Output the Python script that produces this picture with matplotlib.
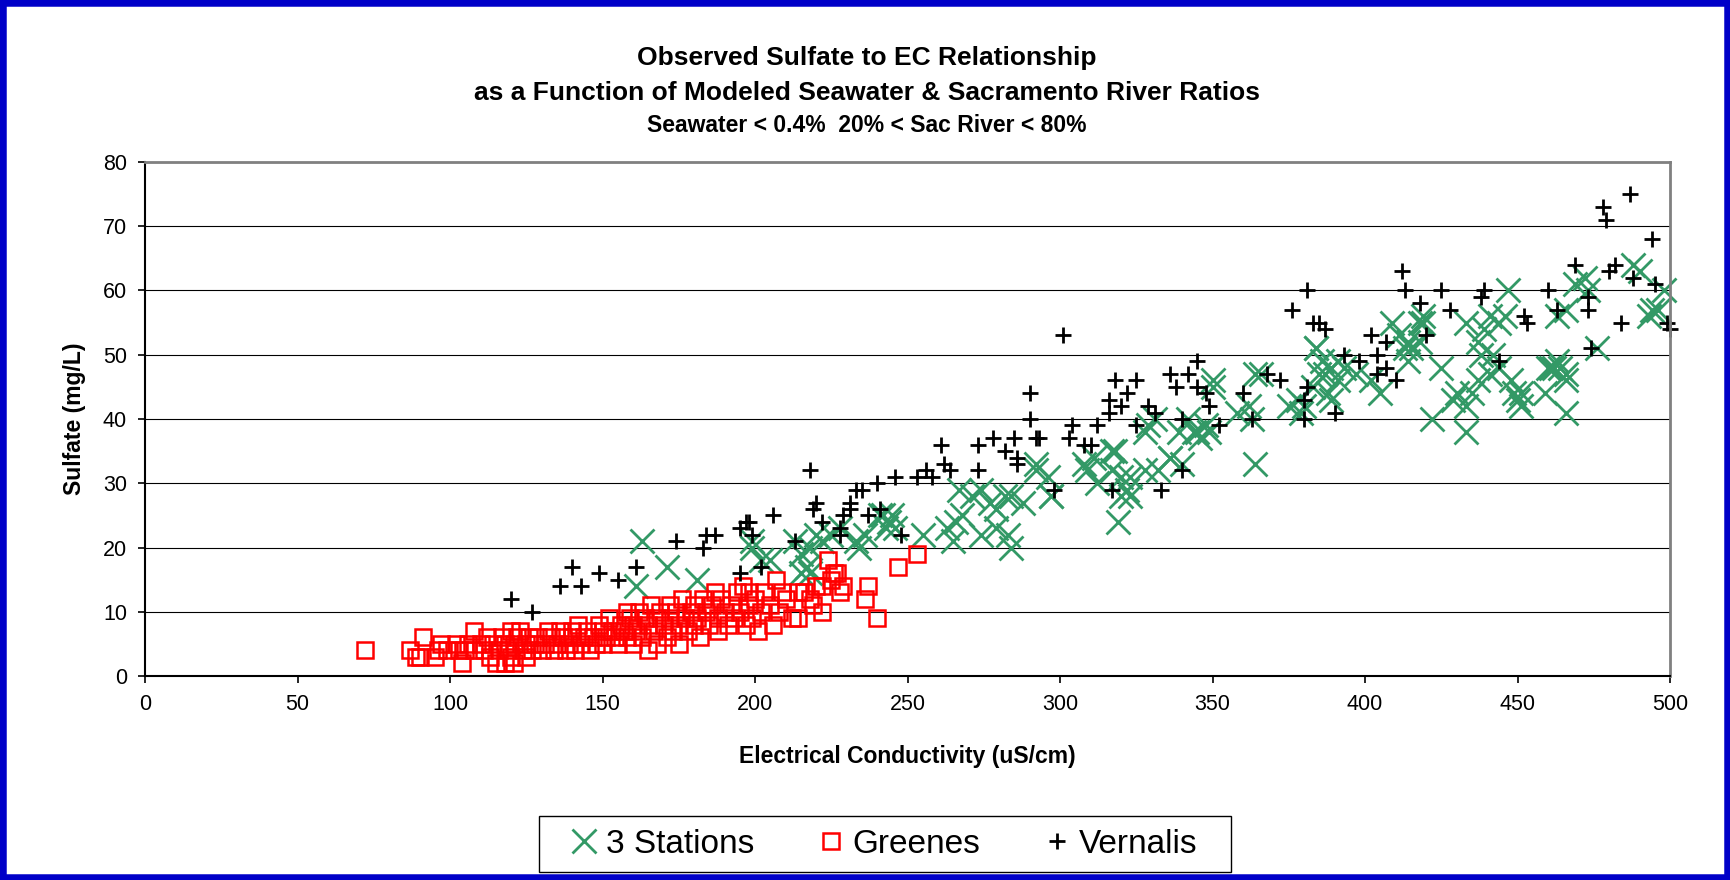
import matplotlib.pyplot as plt
from matplotlib.patches import Rectangle

plt.rcParams['font.family'] = ['Liberation Sans', 'DejaVu Sans']

# 3 Stations (green X)
stations_ec = [161, 163, 171, 181, 199, 199, 202, 205, 213, 215, 217, 218, 220, 222, 215, 218,
               225, 228, 233, 234, 236, 241, 242, 243, 244, 246, 245,
               255, 263, 265, 266, 268, 267, 271, 274, 274, 277, 279, 279, 282, 283, 284, 284,
               288, 292, 292, 296, 297, 297,
               308, 309, 311, 312, 317, 317, 318, 319, 320, 320, 322, 323, 323, 328, 328, 329,
               331, 332, 336, 336, 339, 340, 342, 344, 345, 346, 348, 349, 350, 350,
               358, 362, 363, 364, 364, 366, 375, 378, 379, 380, 383, 384, 384, 385, 386, 387,
               388, 389, 389, 391, 391, 393, 397,
               402, 405, 409, 411, 413, 414, 414, 415, 418, 418, 419, 419, 422, 425, 429, 430,
               433, 433, 433, 435, 437, 437, 438, 439, 441, 441, 442, 444, 444, 446, 447, 448,
               449, 450,
               451, 451, 459, 460, 461, 462, 463, 464, 463, 466, 466, 466, 466, 469, 472, 473,
               476, 488, 490, 493, 494, 496, 498]
stations_so4 = [14, 21, 17, 15, 20, 21, 18, 18, 21, 19, 17, 20, 22, 21, 16, 16,
                22, 23, 21, 20, 22, 25, 25, 23, 24, 23, 25,
                22, 23, 21, 24, 25, 29, 28, 29, 22, 27, 26, 23, 28, 22, 20, 28,
                27, 33, 32, 31, 28, 28,
                33, 32, 34, 30, 35, 32, 35, 24, 31, 28, 29, 31, 28, 32, 38, 39,
                40, 32, 34, 34, 38, 33, 40, 38, 38, 37, 39, 38, 45, 46,
                41, 42, 40, 33, 47, 47, 42, 43, 41, 42, 45, 51, 51, 47, 49, 47,
                44, 48, 43, 49, 46, 48, 47,
                46, 44, 55, 53, 51, 49, 52, 51, 55, 52, 55, 56, 40, 48, 43, 44,
                42, 38, 55, 44, 46, 52, 50, 54, 47, 56, 50, 55, 48, 56, 60, 46,
                44, 43,
                44, 42, 44, 48, 48, 48, 49, 48, 56, 57, 46, 41, 47, 61, 62, 60,
                51, 64, 63, 56, 57, 57, 60]

# Greenes (red squares)
greenes_ec = [72, 87, 89, 90, 91, 95, 96, 97, 99,
              102, 103, 104, 105, 106, 108, 108, 110, 111, 112, 113, 114, 115, 116, 117, 118,
              118, 119, 120, 120, 121, 121,
              122, 123, 124, 125, 125, 126, 127, 128, 129, 130, 131, 132, 133, 134, 135, 136,
              137, 138, 139, 140, 140, 141, 142, 143,
              144, 145, 146, 147, 148, 149, 150, 150, 151, 152, 153, 154, 155, 156, 157, 158,
              158, 159, 160, 160,
              161, 162, 163, 164, 165, 165, 166, 167, 168, 168, 169, 170, 171, 172, 172, 173,
              174, 175, 175, 176, 177, 178, 179, 180, 180,
              181, 182, 183, 184, 185, 186, 187, 188, 188, 189, 190, 191, 192, 193, 194, 195,
              196, 197, 198, 198, 199, 200,
              201, 202, 203, 205, 206, 207, 208, 209, 210, 212, 214, 214, 216, 218, 219, 220,
              222, 222, 224, 225, 226, 227, 228, 229, 236, 237, 240, 247, 253]
greenes_so4 = [4, 4, 3, 3, 6, 3, 4, 5, 4,
               5, 4, 2, 4, 5, 7, 4, 5, 4, 6, 3, 5, 2, 4, 6, 2,
               5, 4, 7, 3, 2, 5,
               6, 7, 4, 5, 3, 6, 4, 5, 6, 4, 5, 7, 6, 4, 5, 7,
               6, 4, 5, 7, 6, 4, 8, 5,
               6, 7, 4, 6, 5, 8, 7, 5, 6, 9, 7, 6, 5, 8, 7, 10,
               6, 9, 8, 5,
               7, 10, 6, 9, 4, 8, 11, 7, 5, 9, 10, 8, 6, 11, 9, 7,
               10, 8, 5, 12, 9, 7, 10, 11, 8,
               9, 6, 12, 10, 8, 11, 13, 9, 7, 12, 10, 8, 11, 9, 13, 10,
               14, 8, 13, 11, 9, 12,
               7, 10, 13, 11, 8, 15, 10, 13, 12, 9, 13, 9, 13, 12, 11, 14,
               10, 14, 18, 15, 16, 16, 13, 14, 12, 14, 9, 17, 19]

# Vernalis (black plus)
vernalis_ec = [120, 127, 136, 140, 143, 149, 155, 161, 174, 183, 184, 187, 195, 195, 197, 198,
               199, 202,
               206, 213, 218, 219, 220, 222, 228, 229, 228, 231, 231, 233, 235, 237, 240, 241,
               246, 248,
               253, 256, 258, 261, 262, 264, 273, 273, 278, 282, 285, 286, 286, 290, 290, 292,
               293, 298,
               301, 303, 304, 308, 310, 312, 316, 316, 317, 318, 320, 322, 325, 325, 329, 331,
               333, 336, 338, 340, 340, 342, 345, 345, 348, 349, 352,
               360, 363, 368, 372, 376, 380, 380, 381, 381, 383, 385, 387, 390, 393, 398,
               402, 404, 404, 407, 407, 410, 412, 413, 418, 420, 425, 428, 438, 439, 444,
               452, 453, 460, 463, 469, 473, 473, 474, 478, 479, 480, 482, 484, 487, 488, 494,
               495, 499, 500]
vernalis_so4 = [12, 10, 14, 17, 14, 16, 15, 17, 21, 20, 22, 22, 16, 23, 24, 24,
                22, 17,
                25, 21, 32, 26, 27, 24, 23, 25, 22, 27, 26, 29, 29, 25, 30, 26,
                31, 22,
                31, 32, 31, 36, 33, 32, 36, 32, 37, 35, 37, 34, 33, 44, 40, 37,
                37, 29,
                53, 37, 39, 36, 36, 39, 43, 41, 29, 46, 42, 44, 46, 39, 42, 41,
                29, 47, 45, 40, 32, 47, 49, 45, 44, 42, 39,
                44, 40, 47, 46, 57, 40, 43, 60, 45, 55, 55, 54, 41, 50, 49,
                53, 50, 47, 48, 52, 46, 63, 60, 58, 53, 60, 57, 59, 60, 49,
                56, 55, 60, 57, 64, 59, 57, 51, 73, 71, 63, 64, 55, 75, 62, 68,
                61, 55, 54]

x_ticks = [0, 50, 100, 150, 200, 250, 300, 350, 400, 450, 500]
y_ticks = [0, 10, 20, 30, 40, 50, 60, 70, 80]

W, H = 1730, 880
fig = plt.figure(figsize=(W / 100, H / 100), dpi=100)
fig.patch.set_facecolor('white')

ax = fig.add_axes([145 / W, 1 - 676 / H, (1670 - 145) / W, (676 - 162) / H])
ax.set_xlim(0, 500)
ax.set_ylim(0, 80)
ax.set_xticks(x_ticks)
ax.set_yticks(y_ticks)
ax.yaxis.grid(True, color='black', linewidth=0.8)
ax.set_axisbelow(True)
ax.tick_params(direction='out', length=5, width=1.2, labelsize=15.5, colors='black', pad=8)

for side in ['top', 'right']:
    ax.spines[side].set_color('#808080')
    ax.spines[side].set_linewidth(2)
for side in ['left', 'bottom']:
    ax.spines[side].set_color('black')
    ax.spines[side].set_linewidth(1.5)

h1, = ax.plot(stations_ec, stations_so4, linestyle='none', marker='x', ms=17, mew=2,
              color='#339966', clip_on=False, label='3 Stations')
h2, = ax.plot(greenes_ec, greenes_so4, linestyle='none', marker='s', ms=11, mew=1.8,
              markerfacecolor='none', markeredgecolor='#FF0000', clip_on=False, label='Greenes')
h3, = ax.plot(vernalis_ec, vernalis_so4, linestyle='none', marker='+', ms=12, mew=2,
              color='black', clip_on=False, label='Vernalis')

fig.text(0.501, 1 - 58 / H, 'Observed Sulfate to EC Relationship',
         ha='center', va='center', fontsize=19, fontweight='bold')
fig.text(0.501, 1 - 93 / H, 'as a Function of Modeled Seawater & Sacramento River Ratios',
         ha='center', va='center', fontsize=19, fontweight='bold')
fig.text(0.501, 1 - 125 / H, 'Seawater < 0.4%  20% < Sac River < 80%',
         ha='center', va='center', fontsize=16.5, fontweight='bold')

fig.text(907 / W, 1 - 756 / H, 'Electrical Conductivity (uS/cm)',
         ha='center', va='center', fontsize=16.5, fontweight='bold')
fig.text(75 / W, 1 - 419 / H, 'Sulfate (mg/L)', rotation=90,
         ha='center', va='center', fontsize=16.5, fontweight='bold')

# legend box drawn separately so its size can be set exactly
fig.patches.append(Rectangle((539 / W, 1 - 872 / H), (1231 - 539) / W, (872 - 816) / H,
                             transform=fig.transFigure, fill=False, edgecolor='black',
                             linewidth=1))
fig.legend(handles=[h1, h2, h3], loc='center', bbox_to_anchor=(884 / W, 1 - 844 / H),
           ncol=3, frameon=False, fontsize=24, handlelength=0.8, handletextpad=0.25,
           columnspacing=1.9)

# blue slide border
fig.patches.append(Rectangle((0, 0), 1, 1, transform=fig.transFigure, fill=False,
                             edgecolor='#0000C8', linewidth=9))

fig.savefig('out.png', dpi=100)
